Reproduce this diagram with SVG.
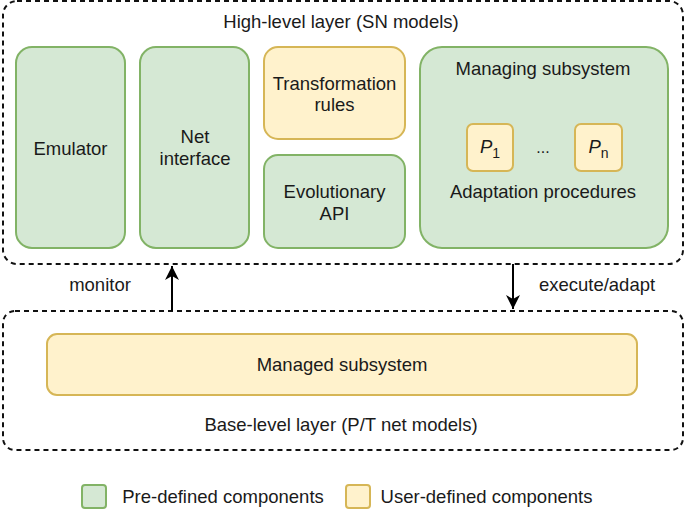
<svg xmlns="http://www.w3.org/2000/svg" width="685" height="509" viewBox="0 0 685 509">
<style>
text{font-family:"Liberation Sans",Arial,sans-serif;font-size:18.5px;fill:#1a1a1a;text-anchor:middle}
.layer{fill:none;stroke:#111;stroke-width:2;stroke-dasharray:5 4}
.pre{fill:#d5e8d4;stroke:#82b366;stroke-width:2}
.user{fill:#fff2cc;stroke:#d6b656;stroke-width:2}
.conn{stroke:#000;stroke-width:2;fill:none}
</style>
<defs>
<marker id="ah" viewBox="0 0 10 10" refX="9" refY="5" markerWidth="10" markerHeight="10" markerUnits="userSpaceOnUse" orient="auto">
<path d="M0,0 L10,5 L0,10 L3,5 Z" fill="#000"/>
</marker>
<marker id="ahb" viewBox="0 0 14 14" refX="14" refY="7" markerWidth="14" markerHeight="14" markerUnits="userSpaceOnUse" orient="auto">
<path d="M0,0 L14,7 L0,14 L4,7 Z" fill="#000"/>
</marker>
</defs>
<g id="high-level-layer">
<rect class="layer" x="3" y="1" width="680" height="263" rx="14"/>
<text x="341" y="28">High-level layer (SN models)</text>
</g>
<g id="emulator">
<rect class="pre" x="16" y="47" width="109" height="201" rx="16"/>
<text x="70.5" y="155">Emulator</text>
</g>
<g id="net-interface">
<rect class="pre" x="140" y="47" width="109" height="201" rx="16"/>
<text x="195" y="143">Net</text>
<text x="195" y="165">interface</text>
</g>
<g id="transformation-rules">
<rect class="user" x="264" y="47" width="141" height="92" rx="14"/>
<text x="334.5" y="90">Transformation</text>
<text x="334.5" y="111">rules</text>
</g>
<g id="evolutionary-api">
<rect class="pre" x="264" y="155" width="141" height="93" rx="14"/>
<text x="334.5" y="198">Evolutionary</text>
<text x="334.5" y="220">API</text>
</g>
<g id="managing-subsystem">
<rect class="pre" x="420" y="47" width="248" height="201" rx="22"/>
<text x="543" y="75">Managing subsystem</text>
<text x="543" y="198">Adaptation procedures</text>
<text x="543" y="153" style="font-size:16px">...</text>
</g>
<g id="p1">
<rect class="user" x="467" y="124" width="46" height="47" rx="6"/>
<text x="490" y="153"><tspan font-style="italic">P</tspan><tspan font-size="14" dy="5">1</tspan></text>
</g>
<g id="pn">
<rect class="user" x="575" y="124" width="47" height="47" rx="6"/>
<text x="598.5" y="153"><tspan font-style="italic">P</tspan><tspan font-size="14" dy="5">n</tspan></text>
</g>
<g id="base-level-layer">
<rect class="layer" x="3" y="311" width="680" height="139" rx="12"/>
<text x="341" y="431">Base-level layer (P/T net models)</text>
</g>
<g id="managed-subsystem">
<rect class="user" x="47" y="334" width="590" height="61" rx="10"/>
<text x="342" y="371">Managed subsystem</text>
</g>
<g id="connectors">
<line class="conn" x1="172" y1="311" x2="172" y2="266" marker-end="url(#ahb)"/>
<line class="conn" x1="513" y1="264" x2="513" y2="309" marker-end="url(#ahb)"/>
<text x="100" y="291">monitor</text>
<text x="597" y="291">execute/adapt</text>
</g>
<g id="legend">
<rect class="pre" x="82" y="485" width="24" height="23" rx="3"/>
<text x="223" y="503">Pre-defined components</text>
<rect class="user" x="346" y="485" width="24" height="23" rx="3"/>
<text x="486.5" y="503">User-defined components</text>
</g>
</svg>
